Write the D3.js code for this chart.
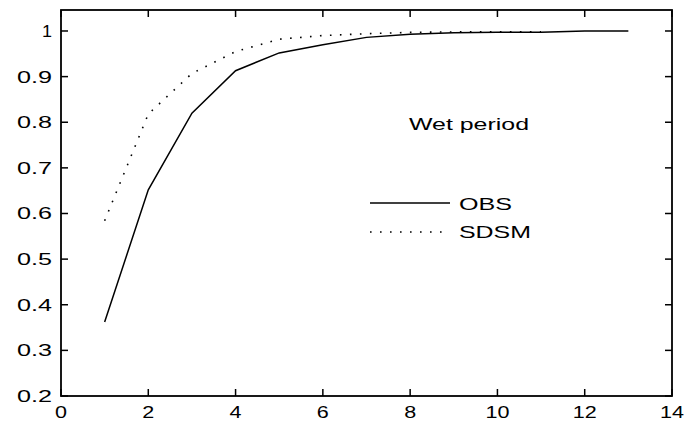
<!DOCTYPE html>
<html><head><meta charset="utf-8">
<script src="https://cdn.jsdelivr.net/npm/d3@7"></script>
<style>body{margin:0;background:#fff}svg{display:block}text{font-family:"Liberation Sans",Arial,sans-serif;font-size:17px;fill:#000}</style>
</head><body><svg id="c" width="685" height="423"></svg>
<script>
const lagsObs = [1,2,3,4,5,6,7,8,9,10,11,12,13];
const obsValues = [0.362,0.652,0.82,0.913,0.952,0.97,0.986,0.993,0.996,0.997,0.997,1.0,1.0];
const lagsSdsm = [1,2,3,4,5,6,7,8,9,10,11];
const sdsmValues = [0.584,0.818,0.907,0.955,0.982,0.99,0.994,0.997,0.998,0.998,0.998];
const xTicks = [0,2,4,6,8,10,12,14];
const yTicks = [0.2,0.3,0.4,0.5,0.6,0.7,0.8,0.9,1];
const titleText = "Wet period";
const seriesNames = ["OBS","SDSM"];

const svg = d3.select("#c");
const L=61,R=672,T=10,B=396;
const x = d3.scaleLinear().domain([0,14]).range([L,R]);
const y = d3.scaleLinear().domain([0.2,1.046]).range([B,T]);

function fit(sel, w){ sel.attr("textLength", w).attr("lengthAdjust","spacingAndGlyphs"); }

// box
svg.append("rect").attr("x",L).attr("y",T).attr("width",R-L).attr("height",B-T)
  .attr("fill","none").attr("stroke","#000").attr("stroke-width",1.8);

// ticks (inward, mirrored)
const tl=7;
xTicks.forEach(t=>{
  svg.append("line").attr("x1",x(t)).attr("x2",x(t)).attr("y1",B).attr("y2",B-tl).attr("stroke","#000").attr("stroke-width",1.5);
  svg.append("line").attr("x1",x(t)).attr("x2",x(t)).attr("y1",T).attr("y2",T+tl).attr("stroke","#000").attr("stroke-width",1.5);
  const s=String(t);
  svg.append("text").attr("x",x(t)).attr("y",418).attr("text-anchor","middle").text(s).call(fit, s.length*12);
});
yTicks.forEach(t=>{
  svg.append("line").attr("x1",L).attr("x2",L+tl).attr("y1",y(t)).attr("y2",y(t)).attr("stroke","#000").attr("stroke-width",1.5);
  svg.append("line").attr("x1",R).attr("x2",R-tl).attr("y1",y(t)).attr("y2",y(t)).attr("stroke","#000").attr("stroke-width",1.5);
  const s=d3.format("")(t);
  svg.append("text").attr("x",52).attr("y",y(t)+6).attr("text-anchor","end").text(s).call(fit, s.length===1?10:35);
});

const line = d3.line().x(d=>x(d[0])).y(d=>y(d[1]));
svg.append("path").datum(lagsObs.map((l,i)=>[l,obsValues[i]])).attr("d",line)
  .attr("fill","none").attr("stroke","#000").attr("stroke-width",1.5);
svg.append("path").datum(lagsSdsm.map((l,i)=>[l,sdsmValues[i]])).attr("d",line)
  .attr("fill","none").attr("stroke","#000").attr("stroke-width",1.6).attr("stroke-dasharray","1.6 8.4");

// annotation
svg.append("text").attr("x",409).attr("y",130).text(titleText).call(fit,120);

// legend
svg.append("line").attr("x1",370).attr("x2",450).attr("y1",203).attr("y2",203).attr("stroke","#000").attr("stroke-width",1.5);
svg.append("text").attr("x",459).attr("y",210).text(seriesNames[0]).call(fit,53);
svg.append("line").attr("x1",370).attr("x2",450).attr("y1",232).attr("y2",232).attr("stroke","#000").attr("stroke-width",1.6).attr("stroke-dasharray","1.6 8.4");
svg.append("text").attr("x",459).attr("y",238).text(seriesNames[1]).call(fit,72);
</script></body></html>
